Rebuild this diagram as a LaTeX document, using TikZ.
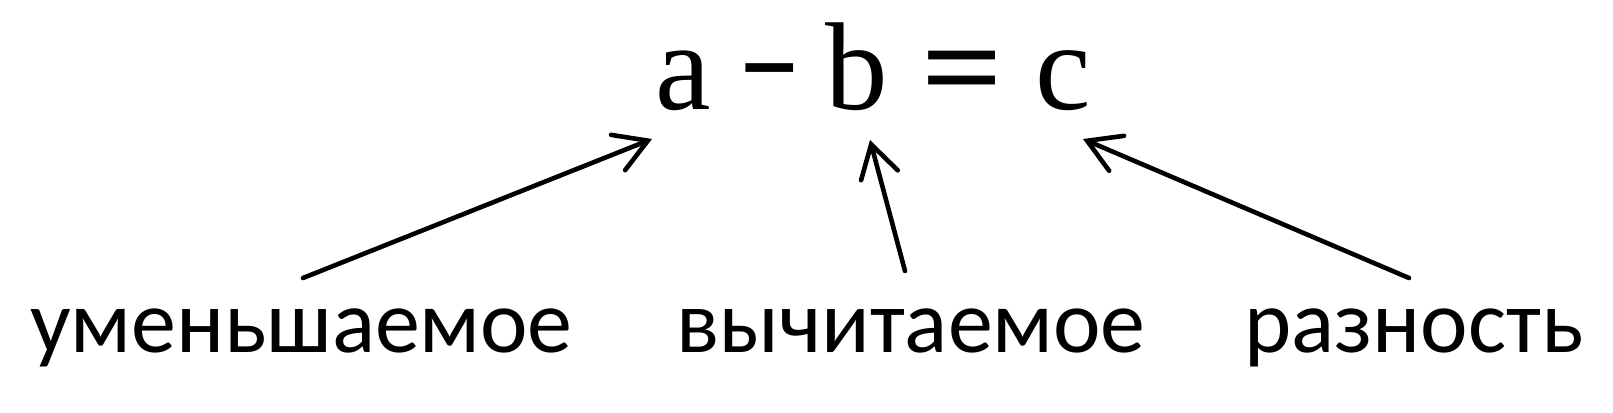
\documentclass[tikz,border=0pt]{standalone}
\usepackage{fontspec}
\setmainfont{Carlito}
\newfontfamily\formulafont{Liberation Serif}
\usetikzlibrary{arrows.meta}
\tikzset{
  sym/.style={inner sep=0pt, anchor=base west, font=\formulafont\fontsize{125}{125}\selectfont},
  opsym/.style={sym, font=\formulafont\bfseries\fontsize{125}{125}\selectfont},
  word/.style={inner sep=0pt, anchor=base west, font=\fontsize{90}{90}\selectfont},
  arr/.style={line width=4.6pt, line cap=round, line join=round, -{Straight Barb[length=32pt, width=38pt, line cap=round]}}
}
\begin{document}
\begin{tikzpicture}[x=1pt,y=-1pt]
\useasboundingbox[fill=white] (0,0) rectangle (1613,412);
\node[sym] (a) at (655,109) {a};
\node[opsym, xscale=0.82] (minus) at (740,109) {−};
\node[sym] (b) at (825,109) {b};
\node[opsym, xscale=1.15] (eq) at (921,109) {=};
\node[sym] (c) at (1035,109) {c};
\node[word] (w1) at (30,352) {уменьшаемое};
\node[word] (w2) at (676,352) {вычитаемое};
\node[word] (w3) at (1244,352) {разность};
\coordinate (s1) at (303,278);
\coordinate (t1) at (652,139);
\coordinate (s2) at (905,271);
\coordinate (t2) at (870,140);
\coordinate (s3) at (1409,278);
\coordinate (t3) at (1083,139);
\draw[arr] (s1) -- (t1);
\draw[arr] (s2) -- (t2);
\draw[arr] (s3) -- (t3);
\end{tikzpicture}
\end{document}
